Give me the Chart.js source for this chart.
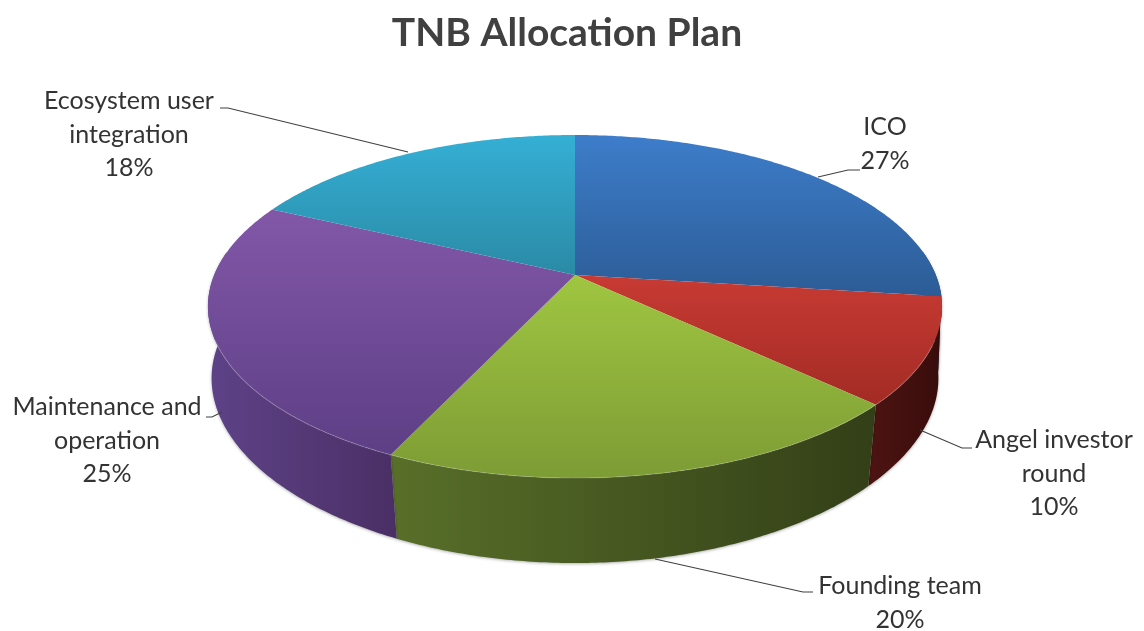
<!DOCTYPE html>
<html>
<head>
<meta charset="utf-8">
<title>TNB Allocation Plan</title>
<script src="https://cdn.jsdelivr.net/npm/chart.js@4"></script>
<style>
  html, body { margin: 0; padding: 0; background: #fff; }
  canvas { display: block; }
</style>
</head>
<body>
<canvas id="pie" width="1144" height="631"></canvas>
<script>
const titleText = "TNB Allocation Plan";
const categories = ["ICO", "Angel investor round", "Founding team", "Maintenance and operation", "Ecosystem user integration"];
const shares = [27, 10, 20, 25, 18];

// label text, split the way the picture wraps it
const labelLines = [
  ["ICO"],
  ["Angel investor", "round"],
  ["Founding team"],
  ["Maintenance and", "operation"],
  ["Ecosystem user", "integration"]
];
const labelCenterX = [885, 1054, 900, 107, 129];
const labelFirstY = [127, 440, 586, 407, 101];
const leaderPaths = [
  [[818, 177], [848, 170], [860, 170]],
  [[920, 430], [962, 448], [972, 448]],
  [[655, 559], [803, 592], [813, 592]],
  [[222, 412], [212, 417], [206, 417]],
  [[408, 152], [228, 108], [220, 108]]
];

const faceTop = ["#3d7dca", "#c73b33", "#9fc641", "#8257a8", "#35afd5"];
const faceBottom = ["#2c5c96", "#a32b25", "#7d9c35", "#5d3f85", "#2a8aa5"];
const wallLeft = ["#24497a", "#4d1412", "#586f29", "#5e4288", "#1f6f85"];
const wallRight = ["#1c3a60", "#380c0b", "#333f17", "#4a2f65", "#195a6d"];

// perspective of the tilted disc: unit circle -> picture
const persp = { cx: 575, cy: 275, kx: 360.8, ky: 115.2, c: -0.1837 };

function project(angle) {
  const u = Math.cos(angle), v = Math.sin(angle);
  const d = 1 + persp.c * v;
  return [persp.cx + persp.kx * u / d, (persp.ky * v + persp.cy) / d];
}

// same rim point on the lower plane of the disc
function lower(p) {
  const depth = 85 - (478 - p[1]) * 0.05;
  const shrink = 0.964 + (478 - p[1]) * 0.00015;
  return [persp.cx + (p[0] - persp.cx) * shrink, p[1] + depth];
}

function rim(start, end) {
  const steps = Math.max(2, Math.ceil((end - start) / 0.01));
  const pts = [];
  for (let i = 0; i <= steps; i++) pts.push(project(start + (end - start) * i / steps));
  return pts;
}

function gradient(ctx, x0, y0, x1, y1, from, to) {
  const g = ctx.createLinearGradient(x0, y0, x1, y1);
  g.addColorStop(0, from);
  g.addColorStop(1, to);
  return g;
}

const tiltedPie = {
  id: "tiltedPie",
  beforeDatasetDraw(chart, args) {
    const ctx = chart.ctx;
    const arcs = args.meta.data;
    ctx.save();

    // walls first, only the part that faces the viewer
    ctx.shadowColor = "rgba(0,0,0,0.3)";
    ctx.shadowBlur = 3;
    ctx.shadowOffsetY = 1;
    arcs.forEach((arc, i) => {
      const pts = rim(arc.startAngle, arc.endAngle).filter((_, k, all) => {
        const a = arc.startAngle + (arc.endAngle - arc.startAngle) * k / (all.length - 1);
        return Math.sin(a) > -0.15;
      });
      if (pts.length < 2) return;
      const low = pts.map(lower);
      const xs = pts.map(p => p[0]).concat(low.map(p => p[0]));
      ctx.beginPath();
      pts.forEach((p, k) => k ? ctx.lineTo(p[0], p[1]) : ctx.moveTo(p[0], p[1]));
      low.reverse().forEach(p => ctx.lineTo(p[0], p[1]));
      ctx.closePath();
      ctx.fillStyle = gradient(ctx, Math.min(...xs), 0, Math.max(...xs), 0, wallLeft[i], wallRight[i]);
      ctx.fill();
    });
    ctx.shadowColor = "transparent";

    // top faces
    arcs.forEach((arc, i) => {
      const pts = rim(arc.startAngle, arc.endAngle);
      const ys = pts.map(p => p[1]).concat(persp.cy);
      ctx.beginPath();
      ctx.moveTo(persp.cx, persp.cy);
      pts.forEach(p => ctx.lineTo(p[0], p[1]));
      ctx.closePath();
      ctx.fillStyle = gradient(ctx, 0, Math.min(...ys), 0, Math.max(...ys), faceTop[i], faceBottom[i]);
      ctx.fill();

      // thin light edge along the front of the rim
      const front = pts.filter(p => p[1] > 340);
      if (front.length > 1) {
        ctx.beginPath();
        front.forEach((p, k) => k ? ctx.lineTo(p[0], p[1]) : ctx.moveTo(p[0], p[1]));
        ctx.strokeStyle = "rgba(255,255,255,0.16)";
        ctx.lineWidth = 1.2;
        ctx.stroke();
      }
    });

    ctx.restore();
    return false;
  },
  afterDraw(chart) {
    const ctx = chart.ctx;
    ctx.save();
    ctx.strokeStyle = "#404040";
    ctx.lineWidth = 1.1;
    leaderPaths.forEach(path => {
      ctx.beginPath();
      path.forEach((p, k) => k ? ctx.lineTo(p[0], p[1]) : ctx.moveTo(p[0], p[1]));
      ctx.stroke();
    });

    ctx.fillStyle = "#333333";
    ctx.font = "25px Lato";
    ctx.textAlign = "center";
    ctx.textBaseline = "middle";
    categories.forEach((name, i) => {
      const lines = labelLines[i].concat(shares[i] + "%");
      lines.forEach((line, k) => ctx.fillText(line, labelCenterX[i], labelFirstY[i] + k * 33.5));
    });
    ctx.restore();
  }
};

const canvas = document.getElementById("pie");
// the reference font has no "ti" ligature, any letter spacing switches it off
canvas.getContext("2d").letterSpacing = "0.02px";

new Chart(canvas, {
  type: "pie",
  data: {
    labels: categories,
    datasets: [{ data: shares, borderWidth: 0 }]
  },
  options: {
    responsive: false,
    animation: false,
    layout: { padding: { right: 10 } },
    plugins: {
      legend: { display: false },
      tooltip: { enabled: false },
      title: {
        display: true,
        text: titleText,
        color: "#404040",
        align: "center",
        font: { family: "Lato", size: 39, weight: "bold" },
        padding: { top: 10, bottom: 10 }
      }
    }
  },
  plugins: [tiltedPie]
});
</script>
</body>
</html>
